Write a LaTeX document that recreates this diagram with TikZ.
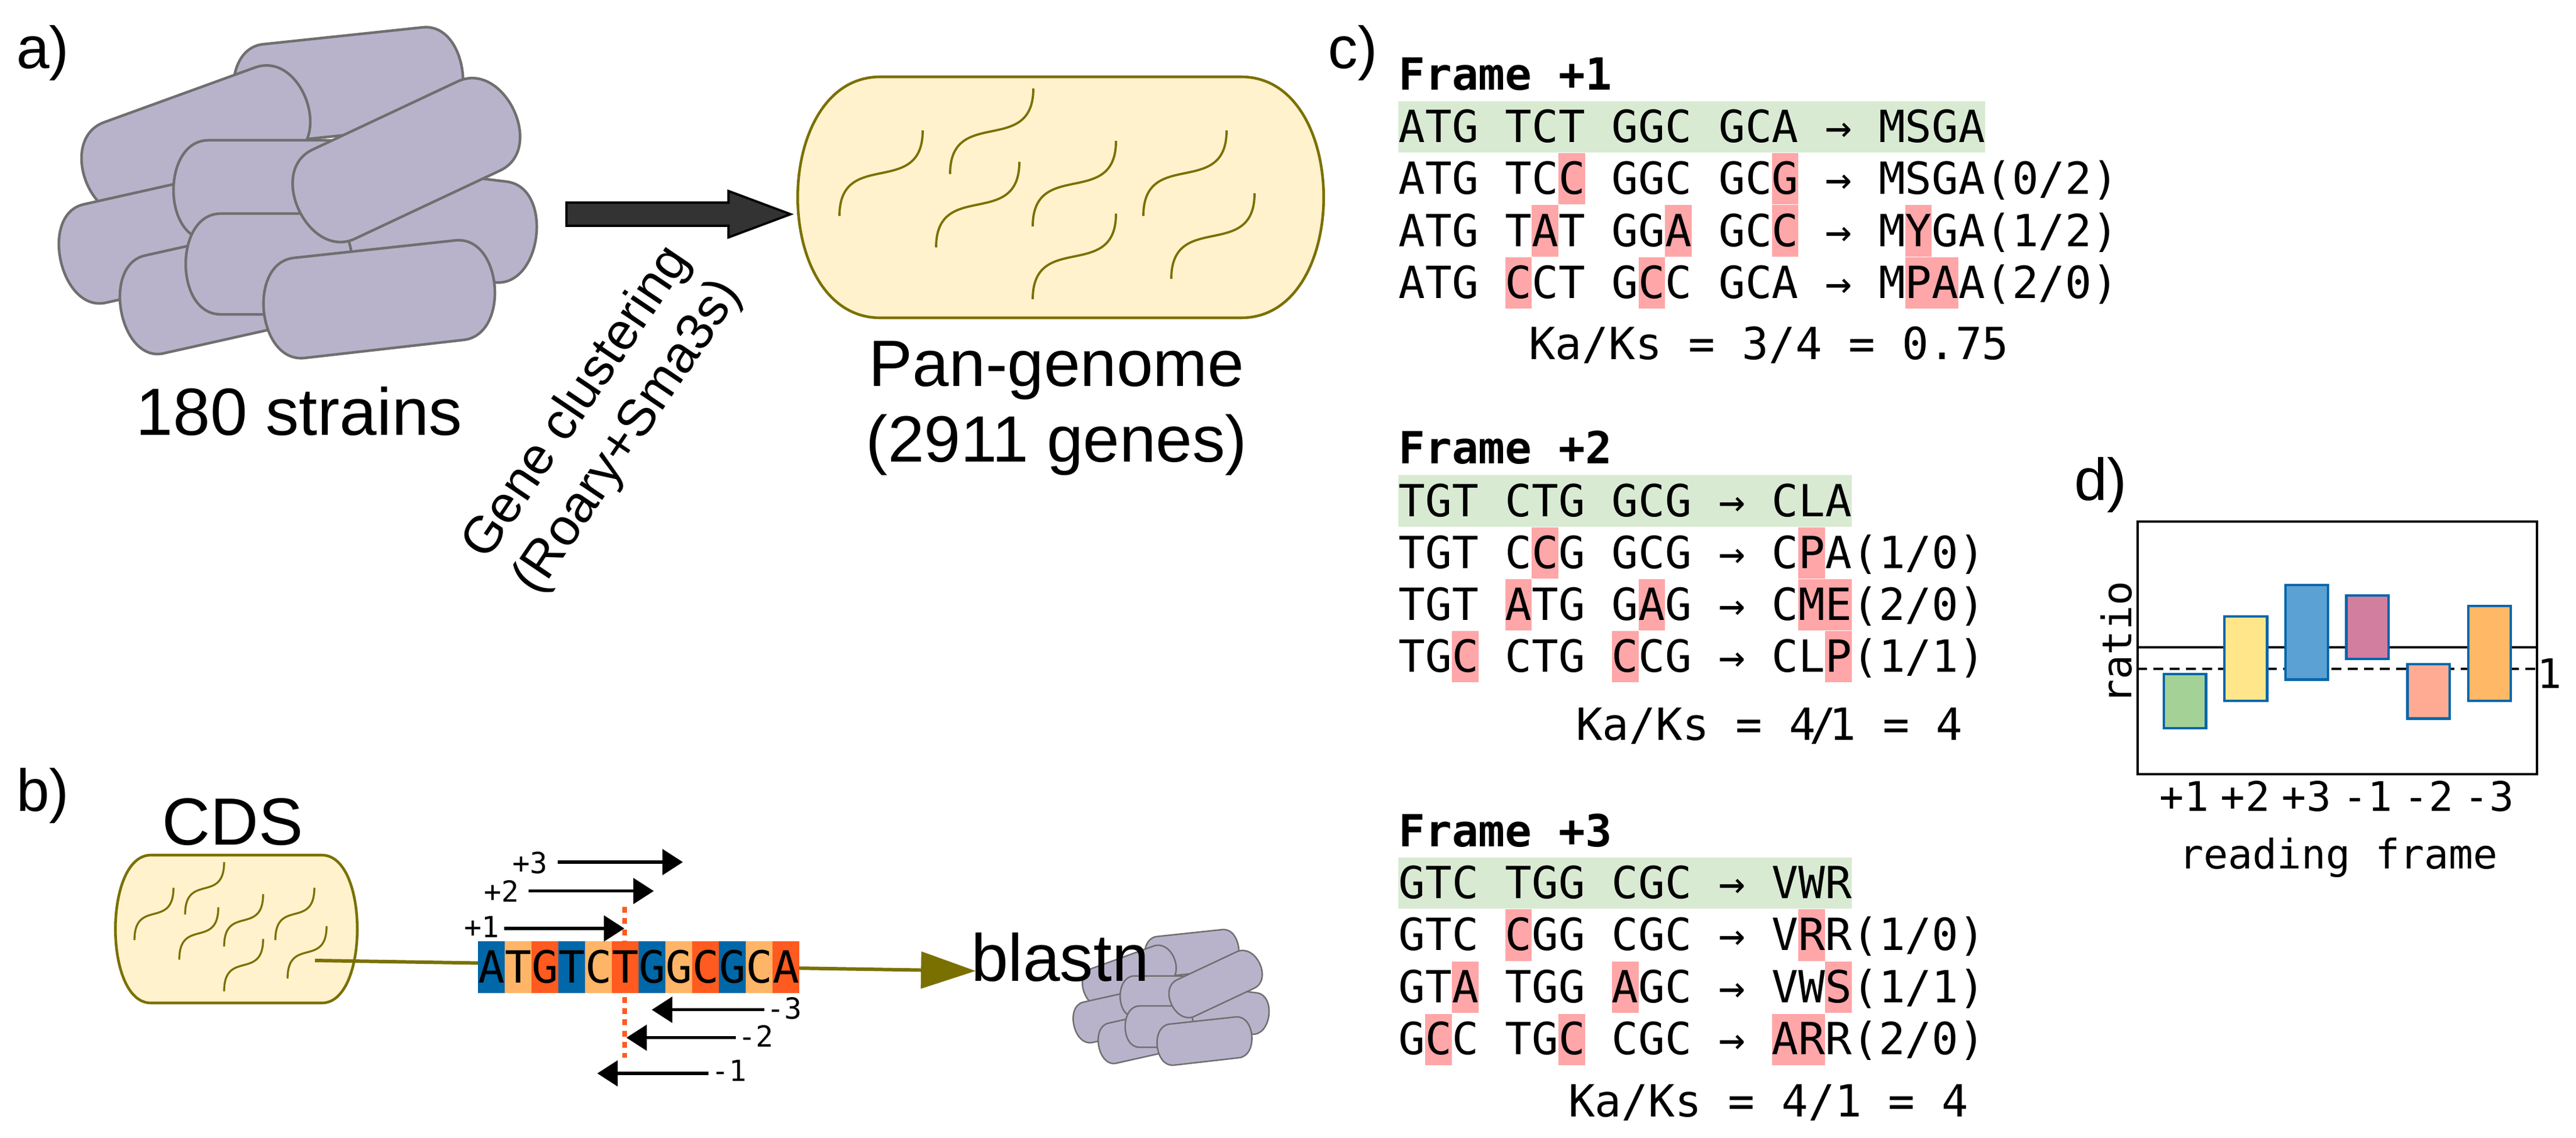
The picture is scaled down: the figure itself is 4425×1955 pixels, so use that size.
\documentclass[tikz,border=0pt]{standalone}
\usepackage{fontspec}
\setmainfont{Liberation Sans}
\newfontfamily\monof{DejaVu Sans Mono}
\usetikzlibrary{arrows.meta,shapes.arrows}
\definecolor{cellfill}{HTML}{B8B3CB}
\definecolor{cellline}{HTML}{6F6F6F}
\definecolor{podfill}{HTML}{FFF2CC}
\definecolor{olive}{HTML}{7A7000}
\definecolor{darkarrow}{HTML}{333333}
\definecolor{seqblue}{HTML}{0067A8}
\definecolor{seqorange}{HTML}{FFB567}
\definecolor{seqred}{HTML}{FF5A1F}
\definecolor{hlgreen}{HTML}{D9EAD3}
\definecolor{hlpink}{HTML}{FFA6A8}
\definecolor{barline}{HTML}{0066AA}
\tikzset{
  every node/.style={inner sep=0pt,outer sep=0pt},
  cell/.style={draw=cellline,fill=cellfill,line join=round},
  pod/.style={draw=olive,fill=podfill,line width=1.3pt},
  genecurve/.style={draw=olive},
  frameline/.style={black,line width=1.15pt},
  revarrow/.style={black,line width=1.5pt,-{Triangle[length=10pt,width=12.5pt]}},
  cdsline/.style={olive,line width=1.7pt,-{Triangle[length=26.7pt,width=17.8pt]}},
  barbox/.style={draw=barline,line width=1.2pt},
  big/.style={font=\fontsize{32.6}{36}\selectfont},
  plabel/.style={font=\fontsize{29}{32}\selectfont,anchor=base west},
  seqcell/.style={minimum width=13.09pt,minimum height=25.18pt,text height=15.4pt,text depth=0pt,
    font=\monof\fontsize{21.64}{24}\selectfont},
  rowtext/.style={anchor=base west,font=\monof\fontsize{21.64}{24}\selectfont},
  small/.style={font=\monof\fontsize{14.2}{16}\selectfont},
  axistext/.style={font=\monof\fontsize{19.9}{22}\selectfont}
}
\newcommand\capsule[9]{%
  \pgfmathsetmacro\capl{veclen(#3-#1,#4-#2)}%
  \pgfmathsetmacro\capdx{(#3-#1)/\capl*#9*1.333}%
  \pgfmathsetmacro\capdy{(#4-#2)/\capl*#9*1.333}%
  \path[cell] (#1,#2) -- (#3,#4) .. controls (#3+\capdx,#4+\capdy) and (#5+\capdx,#6+\capdy) .. (#5,#6)
    -- (#7,#8) .. controls (#7-\capdx,#8-\capdy) and (#1-\capdx,#2-\capdy) .. (#1,#2) -- cycle;}
\newcommand\cellcluster{%
  \capsule{452}{76}{726}{47}{744}{216}{470}{245}{60}
  \capsule{179}{210}{438}{116}{494}{271}{235}{365}{64}
  \capsule{144}{351}{412}{291}{450}{460}{182}{520}{60}
  \capsule{582}{277}{870}{312}{849}{485}{561}{450}{62}
  \capsule{358}{241}{561}{241}{561}{412}{358}{412}{60}
  \capsule{249}{439}{517}{379}{549}{547}{281}{607}{58}
  \capsule{379}{367}{545}{367}{545}{540}{379}{540}{60}
  \capsule{537}{257}{786}{140}{859}{293}{610}{410}{66}
  \capsule{505}{443}{782}{413}{796}{584}{523}{615}{61}}
\newcommand\podbox[5]{\path[pod] (#1,#2) -- (#3,#2) .. controls (#3+#5,#2) and (#3+#5,#4) .. (#3,#4)
    -- (#1,#4) .. controls (#1-#5,#4) and (#1-#5,#2) .. (#1,#2) -- cycle;}
\newcommand\gene[4]{\path[genecurve] (#1,#2) .. controls (#1,#2-0.8*#4) and (#1+#3,#2-0.2*#4) .. (#1+#3,#2-#4);}
\newcommand\hl[3]{\fill[hlpink] (2402.4+45.8*#2,#1) rectangle (2402.4+45.8*#2+45.8*#3,#1+88.2);}
\newcommand\framerows[7]{% name, top, r0..r3, width
  \fill[hlgreen] (2402.4,#2) rectangle ++(45.8*#7,88.2);
  \node[rowtext] (#1r0) at (2402.4,#2+70.7) {#3};
  \node[rowtext] (#1r1) at (2402.4,#2+159.9) {#4};
  \node[rowtext] (#1r2) at (2402.4,#2+249.1) {#5};
  \node[rowtext] (#1r3) at (2402.4,#2+338.3) {#6};}
\begin{document}
\begin{tikzpicture}[x=0.01cm,y=-0.01cm]
\fill[white] (0,0) rectangle (4425,1955);
\useasboundingbox (0,0) rectangle (4425,1955);
% panel a
\node[plabel] (la) at (28,118) {a)};
\begin{scope}[cell/.append style={line width=1.28pt}]
\cellcluster
\end{scope}
\node[big,anchor=base] (strains) at (514,747) {180 strains};
\node[draw=black,fill=darkarrow,line width=1.1pt,single arrow,single arrow tip angle=41,inner ysep=5.1pt,
  single arrow head extend=5.7pt,single arrow head indent=0pt,minimum width=22pt,minimum height=109.5pt,
  anchor=west] (clusterarrow) at (973,368) {};
\node[rotate=56,align=center,font=\fontsize{25.4}{30}\selectfont] (clusterlabel) at (1036,722) {Gene clustering\\(Roary+Sma3s)};
\podbox{1512}{132}{2132}{546}{189}
\begin{scope}[genecurve/.append style={line width=1.1pt}]
\gene{1442}{371}{143}{147}
\gene{1632}{299}{143}{147}
\gene{1608}{425}{143}{147}
\gene{1774}{389}{143}{147}
\gene{1964}{371}{143}{147}
\gene{1774}{514}{143}{147}
\gene{2012}{479}{143}{147}
\end{scope}
\node[anchor=base,font=\fontsize{32}{36}\selectfont] (pan1) at (1815,663.5) {Pan-genome};
\node[anchor=base,font=\fontsize{32}{36}\selectfont] (pan2) at (1815,793) {(2911 genes)};
% panel b
\node[plabel] (lb) at (28,1393) {b)};
\node[big,anchor=base] (cds) at (400,1451) {CDS};
\podbox{259}{1469}{553}{1723}{81}
\begin{scope}[genecurve/.append style={line width=0.95pt}]
\gene{231}{1615}{67}{90}
\gene{318}{1571}{67}{90}
\gene{308}{1648.5}{67}{90}
\gene{385}{1626}{67}{90}
\gene{473}{1615}{67}{90}
\gene{385}{1703}{67}{90}
\gene{494}{1681}{67}{90}
\end{scope}
\coordinate (cdsstart) at (541,1650);
\coordinate (cdsend) at (1676,1668);
\coordinate (cuttop) at (1073,1558);
\coordinate (cutbot) at (1073,1817);
\draw[seqred,line width=2.2pt,dash pattern=on 2.85pt off 2.65pt] (cuttop) -- (cutbot);
\draw[cdsline] (cdsstart) -- (cdsend);
\begin{scope}[shift={(1801.95,1577.7)},scale=0.41,cell/.append style={line width=0.72pt}]
\cellcluster
\end{scope}
\node[big,anchor=base west] (blastn) at (1668,1685) {blastn};
\foreach \i/\l/\c in {0/A/seqblue,1/T/seqorange,2/G/seqred,3/T/seqblue,4/C/seqorange,5/T/seqred,6/G/seqblue,7/G/seqorange,8/C/seqred,9/G/seqblue,10/C/seqorange,11/A/seqred}{
  \node[seqcell,fill=\c] (seq\i) at (844+46*\i,1661.25) {\l};
}
\foreach \n/\a/\b/\yy in {p3/958/1173/1481, p2/908/1123/1530.7, p1/865.5/1072.5/1595}{
  \coordinate (\n s) at (\a,\yy);
  \coordinate (\n e) at (\b,\yy);
  \draw[revarrow] (\n s) -- (\n e);
}
\node[small,anchor=base east] (tp3) at (941,1500) {+3};
\node[small,anchor=base east] (tp2) at (892,1549) {+2};
\node[small,anchor=base east] (tp1) at (858,1610) {+1};
\foreach \n/\a/\b/\yy in {m3/1312.5/1119.6/1734.7, m2/1264/1076/1782.7, m1/1216.5/1026/1844}{
  \coordinate (\n s) at (\a,\yy);
  \coordinate (\n e) at (\b,\yy);
  \draw[revarrow] (\n s) -- (\n e);
}
\node[small,anchor=base west] (tm3) at (1317,1750) {-3};
\node[small,anchor=base west] (tm2) at (1268,1798) {-2};
\node[small,anchor=base west] (tm1) at (1222,1857.7) {-1};
% panel c
\node[plabel] (lc) at (2281,118) {c)};
% frame 1
\hl{263.2}{6}{1}\hl{263.2}{14}{1}
\hl{352.4}{5}{1}\hl{352.4}{10}{1}\hl{352.4}{14}{1}\hl{352.4}{19}{1}
\hl{441.6}{4}{1}\hl{441.6}{9}{1}\hl{441.6}{19}{2}
\node[rowtext,font=\monof\bfseries\fontsize{21.64}{24}\selectfont] (f1t) at (2402.4,154.6) {Frame +1};
\framerows{fa}{174}{ATG TCT GGC GCA → MSGA}{ATG TCC GGC GCG → MSGA(0/2)}{ATG TAT GGA GCC → MYGA(1/2)}{ATG CCT GCC GCA → MPAA(2/0)}{22}
\node[rowtext] (f1k) at (2626,617.7) {Ka/Ks = 3/4 = 0.75};
% frame 2
\hl{905.6}{5}{1}\hl{905.6}{15}{1}
\hl{994.8}{4}{1}\hl{994.8}{9}{1}\hl{994.8}{15}{2}
\hl{1084}{2}{1}\hl{1084}{8}{1}\hl{1084}{16}{1}
\node[rowtext,font=\monof\bfseries\fontsize{21.64}{24}\selectfont] (f2t) at (2402.4,796.5) {Frame +2};
\framerows{fb}{816.4}{TGT CTG GCG → CLA}{TGT CCG GCG → CPA(1/0)}{TGT ATG GAG → CME(2/0)}{TGC CTG CCG → CLP(1/1)}{17}
\node[rowtext] (f2k) at (2707,1271) {Ka/Ks = 4\kern-3.2pt/\kern-3.2pt1 = 4};
% frame 3
\hl{1562.3}{4}{1}\hl{1562.3}{15}{1}
\hl{1652}{2}{1}\hl{1652}{8}{1}\hl{1652}{16}{1}
\hl{1741.5}{1}{1}\hl{1741.5}{6}{1}\hl{1741.5}{14}{2}
\node[rowtext,font=\monof\bfseries\fontsize{21.64}{24}\selectfont] (f3t) at (2402.4,1454) {Frame +3};
\framerows{fc}{1473}{GTC TGG CGC → VWR}{GTC CGG CGC → VRR(1/0)}{GTA TGG AGC → VWS(1/1)}{GCC TGC CGC → ARR(2/0)}{17}
\node[rowtext] (f3k) at (2694,1918) {Ka/Ks = 4/1 = 4};
% panel d
\node[plabel] (ld) at (3563,859) {d)};
\draw[frameline] (3671.5,1112.4) -- (4358,1112.4);
\draw[frameline,dash pattern=on 4.8pt off 3.1pt] (3671.5,1149) -- (4358,1149);
\draw[frameline] (3671.5,896) rectangle (4358,1330);
\definecolor{b1}{HTML}{A4D296}\definecolor{b2}{HTML}{FFE68B}\definecolor{b3}{HTML}{5BA1D3}
\definecolor{b4}{HTML}{D27E9F}\definecolor{b5}{HTML}{FFAB93}\definecolor{b6}{HTML}{FFB866}
\draw[barbox,fill=b1] (3716.7,1157.9) rectangle (3789.5,1251);
\draw[barbox,fill=b2] (3821,1058.8) rectangle (3894.4,1203.8);
\draw[barbox,fill=b3] (3926,1004.8) rectangle (3998.9,1167.4);
\draw[barbox,fill=b4] (4030.5,1023) rectangle (4103.3,1132);
\draw[barbox,fill=b5] (4135.4,1141) rectangle (4208,1234.4);
\draw[barbox,fill=b6] (4240,1040.7) rectangle (4312.6,1203.8);
\foreach \n/\t/\xx in {a/+1/3752,b/+2/3857,c/+3/3962,d/-1/4067,e/-2/4172,f/-3/4276}{
  \node[axistext,anchor=base] (tick\n) at (\xx,1393.6) {\t};
}
\node[axistext,anchor=base] (xlab) at (4017,1492.7) {reading frame};
\node[axistext,anchor=base,rotate=90] (ylab) at (3661,1104) {ratio};
\node[axistext,anchor=base] (one) at (4379,1182.7) {1};
\end{tikzpicture}
\end{document}
